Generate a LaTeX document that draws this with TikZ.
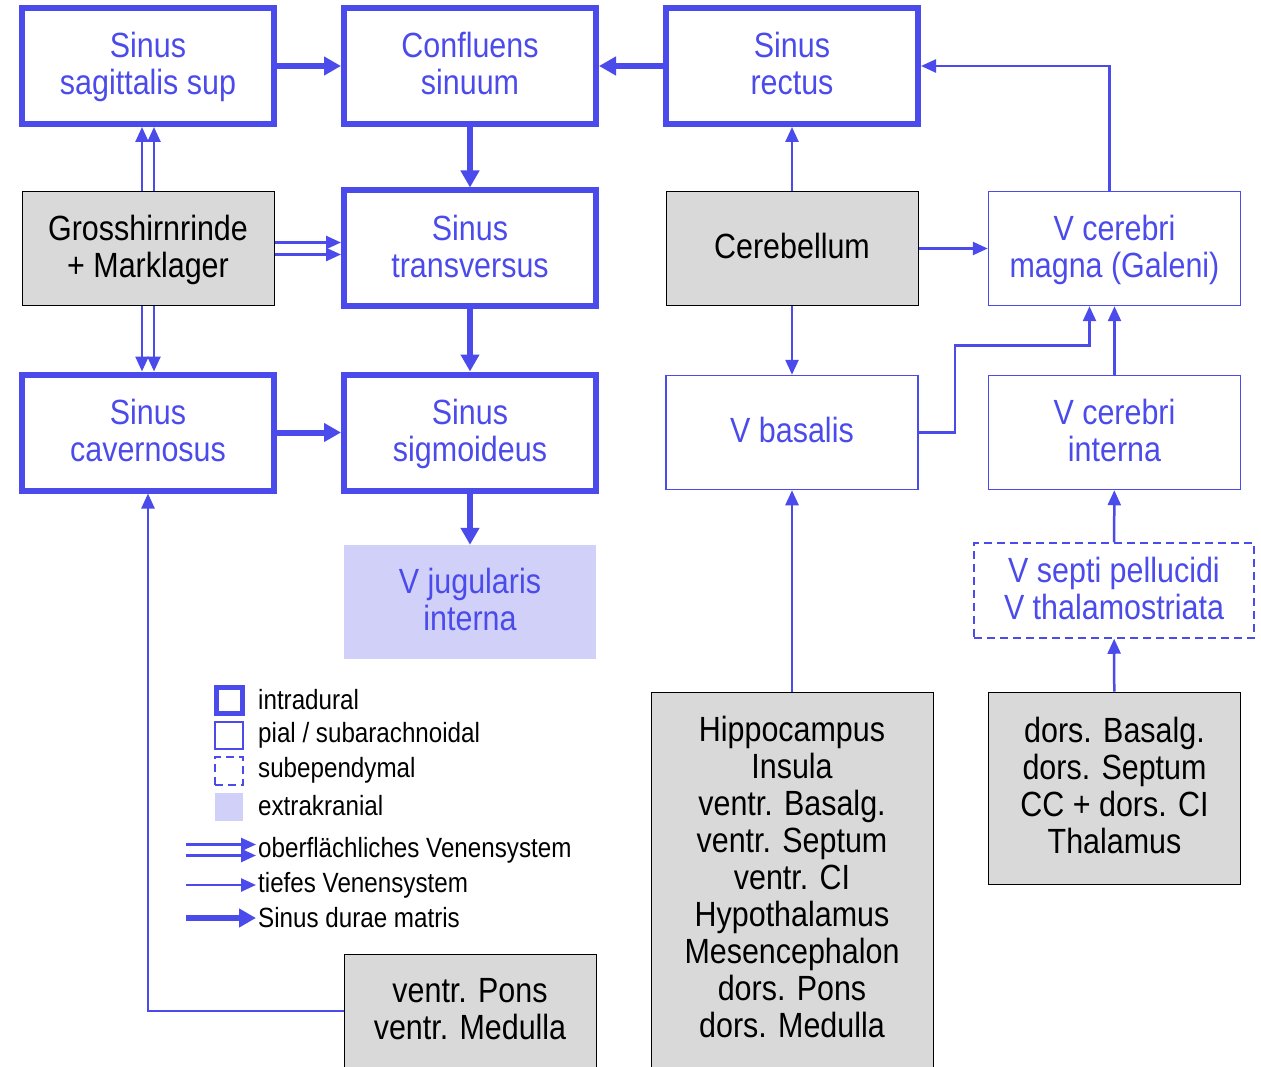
\documentclass[tikz,border=0pt]{standalone}
\usepackage{fontspec}
\setmainfont{Liberation Sans}[FakeStretch=0.87]
\usepackage{tikz}
\usetikzlibrary{arrows.meta}
\definecolor{VenBlau}{RGB}{75,75,235}
\definecolor{ExtraFill}{RGB}{208,208,248}
\definecolor{GewebeGrau}{RGB}{217,217,217}

\begin{document}
\begin{tikzpicture}[x=1pt,y=-1pt,
  font=\fontsize{35}{37}\selectfont,
  box/.style={minimum width=252pt,minimum height=114pt,align=center,inner sep=0pt,
    execute at begin node=\strut,execute at end node=\strut,text depth=5pt},
  dura/.style={box,draw=VenBlau,line width=6pt,minimum height=116pt,text=VenBlau},
  pial/.style={box,draw=VenBlau,line width=1.5pt,text=VenBlau},
  subep/.style={pial,dash pattern=on 8pt off 5pt},
  extra/.style={box,fill=ExtraFill,text=VenBlau},
  gewebe/.style={box,fill=GewebeGrau,draw=black,line width=1pt},
  taste/.style={execute at begin node={},execute at end node={},text depth=0pt,
    font=\fontsize{4}{4}\selectfont},
  sinuspfeil/.style={VenBlau,line width=6pt,-{Triangle[length=17pt,width=18pt]}},
  tiefpfeil/.style={VenBlau,line width=2.5pt,-{Triangle[length=15pt,width=13pt]}},
  legtext/.style={anchor=west,inner sep=2pt,font=\fontsize{27.8}{32}\selectfont}]
  \useasboundingbox (0,0) rectangle (1261,1067);

  % Sinus durae matris
  \node[dura] (ssag) at (148,66) {Sinus\\sagittalis sup};
  \node[dura] (confl) at (470,66) {Confluens\\sinuum};
  \node[dura] (srect) at (792,66) {Sinus\\rectus};
  \node[dura] (strans) at (470,248.5) {Sinus\\transversus};
  \node[dura] (scav) at (148,432.5) {Sinus\\cavernosus};
  \node[dura] (ssig) at (470,432.5) {Sinus\\sigmoideus};
  \node[extra] (vjug) at (470,602) {V jugularis\\interna};

  % Venen
  \node[pial] (vgal) at (1114.5,248.5) {V cerebri\\magna (Galeni)};
  \node[pial] (vbas) at (792,432.5) {V basalis};
  \node[pial] (vint) at (1114.5,432.5) {V cerebri\\interna};
  \node[subep,minimum width=280pt,minimum height=95pt] (vsept) at (1114,590.5) {V septi pellucidi\\V thalamostriata};

  % Hirngewebe
  \node[gewebe] (cortex) at (148,248.5) {Grosshirnrinde\\+ Marklager};
  \node[gewebe] (cereb) at (792,248.5) {Cerebellum};
  \node[gewebe,minimum width=282pt,minimum height=375pt] (hippo) at (792,879.5)
    {Hippocampus\\Insula\\ventr. Basalg.\\ventr. Septum\\ventr. CI\\Hypothalamus\\Mesencephalon\\dors. Pons\\dors. Medulla};
  \node[gewebe,minimum height=192pt] (dbasal) at (1114.5,788) {dors. Basalg.\\dors. Septum\\CC + dors. CI\\Thalamus};
  \node[gewebe,minimum height=114pt] (pons) at (470,1011) {ventr. Pons\\ventr. Medulla};

  % Sinusfluss
  \draw[sinuspfeil] (ssag) -- (confl);
  \draw[sinuspfeil] (srect) -- (confl);
  \draw[sinuspfeil] (confl) -- (strans);
  \draw[sinuspfeil] (strans) -- (ssig);
  \draw[sinuspfeil] (scav) -- (ssig);
  \draw[sinuspfeil] (ssig) -- (vjug);

  % oberflaechliches System
  \draw[tiefpfeil] ([xshift=-6pt]cortex.north) -- ([xshift=-6pt]ssag.south);
  \draw[tiefpfeil] ([xshift=6pt]cortex.north) -- ([xshift=6pt]ssag.south);
  \draw[tiefpfeil] ([yshift=6pt]cortex.east) -- ([yshift=6pt]strans.west);
  \draw[tiefpfeil] ([yshift=-6pt]cortex.east) -- ([yshift=-6pt]strans.west);
  \draw[tiefpfeil] ([xshift=-6pt]cortex.south) -- ([xshift=-6pt]scav.north);
  \draw[tiefpfeil] ([xshift=6pt]cortex.south) -- ([xshift=6pt]scav.north);
  \draw[tiefpfeil] (pons.west) -| (scav.south);

  % tiefes System
  \draw[tiefpfeil] (cereb) -- (srect);
  \draw[tiefpfeil] (cereb) -- (vgal);
  \draw[tiefpfeil] (cereb) -- (vbas);
  \draw[tiefpfeil] ([xshift=-5pt]vgal.north) |- (srect.east);
  \draw[tiefpfeil] (vbas.east) -- ++(36,0) -- ++(0,-87) -| ([xshift=-25pt]vgal.south);
  \draw[tiefpfeil] (vint) -- (vgal);
  \draw[tiefpfeil] (vsept) -- (vint);
  \draw[tiefpfeil] (dbasal) -- (vsept);
  \draw[tiefpfeil] (hippo) -- (vbas);

  % Legende
  \node[dura,taste,minimum width=26pt,minimum height=26pt,line width=5pt] (kdura) at (229,700) {};
  \node[pial,taste,minimum width=28pt,minimum height=27pt] (kpial) at (229,735.5) {};
  \node[subep,taste,minimum width=28pt,minimum height=28pt] (ksubep) at (229,771) {};
  \node[extra,taste,minimum width=28pt,minimum height=28pt] (kextra) at (229,807) {};
  \node[legtext] (tdura) at (256,700) {intradural};
  \node[legtext] (tpial) at (256,735) {pial / subarachnoidal};
  \node[legtext] (tsubep) at (256,770) {subependymal};
  \node[legtext] (textra) at (256,806) {extrakranial};
  \node[legtext] (tober) at (256,850) {oberflächliches Venensystem};
  \node[legtext] (ttief) at (256,885) {tiefes Venensystem};
  \node[legtext] (tsinus) at (256,918) {Sinus durae matris};
  \coordinate (kober) at (186,850);
  \coordinate (ktief) at (186,885);
  \coordinate (ksinus) at (186,918);
  \draw[tiefpfeil] ([yshift=5.5pt]kober) -- ([yshift=5.5pt]kober -| tober.west);
  \draw[tiefpfeil] ([yshift=-5.5pt]kober) -- ([yshift=-5.5pt]kober -| tober.west);
  \draw[tiefpfeil] (ktief) -- (ktief -| ttief.west);
  \draw[sinuspfeil] (ksinus) -- (ksinus -| tsinus.west);
\end{tikzpicture}
\end{document}
